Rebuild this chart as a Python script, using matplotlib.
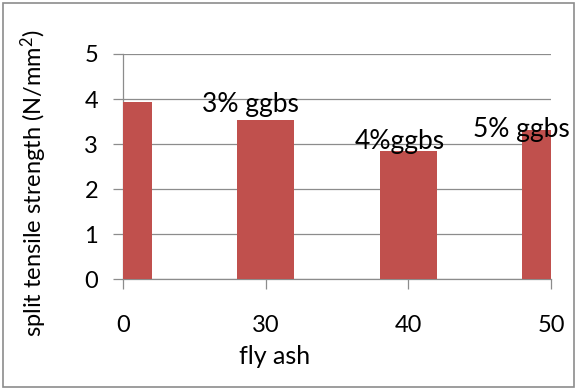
import matplotlib.pyplot as plt
from matplotlib.patches import Rectangle

# split tensile strength vs fly ash content
fly_ash = ["0", "30", "40", "50"]
strength = [3.94, 3.53, 2.85, 3.31]
notes = ["3% ggbs", "4%ggbs", "5% ggbs"]
note_pos = [(0.89, 3.89), (1.94, 3.05), (2.79, 3.33)]

plt.rcParams['font.family'] = ['Lato', 'DejaVu Sans']
plt.rcParams['mathtext.fontset'] = 'custom'
plt.rcParams['mathtext.rm'] = 'Lato'

fig = plt.figure(figsize=(5.77, 3.89), dpi=100)
ax = fig.add_axes([123 / 577, 1 - 279.3 / 389, (551 - 123) / 577, (279.3 - 54) / 389])

x = range(len(fly_ash))
ax.bar(x, strength, width=0.4, color="#C0504D", zorder=3)
ax.set_xlim(0, 3)
ax.set_ylim(0, 5)
ax.set_yticks(range(6))
ax.grid(axis="y", color="#8c8c8c", linewidth=0.9, zorder=0)

ax.set_xticks(list(x))
ax.set_xticklabels(fly_ash)
ax.tick_params(axis="both", labelsize=17, color="#8c8c8c", length=7, width=0.9)
ax.tick_params(axis="x", pad=19)
ax.tick_params(axis="y", pad=11)
for s in ["top", "right"]:
    ax.spines[s].set_visible(False)
for s in ["left", "bottom"]:
    ax.spines[s].set_color("#8c8c8c")
    ax.spines[s].set_linewidth(0.9)

for t, (tx, ty) in zip(notes, note_pos):
    ax.text(tx, ty, t, fontsize=19, ha="center", va="center", clip_on=False, zorder=4)

fig.text(34 / 577, 1 - 183 / 389, "split tensile strength (N/mm$\\mathrm{^2}$)", rotation=90,
         fontsize=17, ha="center", va="center")
fig.text(275 / 577, 1 - 357 / 389, "fly ash", fontsize=18, ha="center", va="center")

fig.patches.append(Rectangle((3 / 577, 2 / 389), 571 / 577, 384 / 389, transform=fig.transFigure,
                             fill=False, edgecolor="#8c8c8c", linewidth=1.2))

fig.savefig("out.png", dpi=100)
